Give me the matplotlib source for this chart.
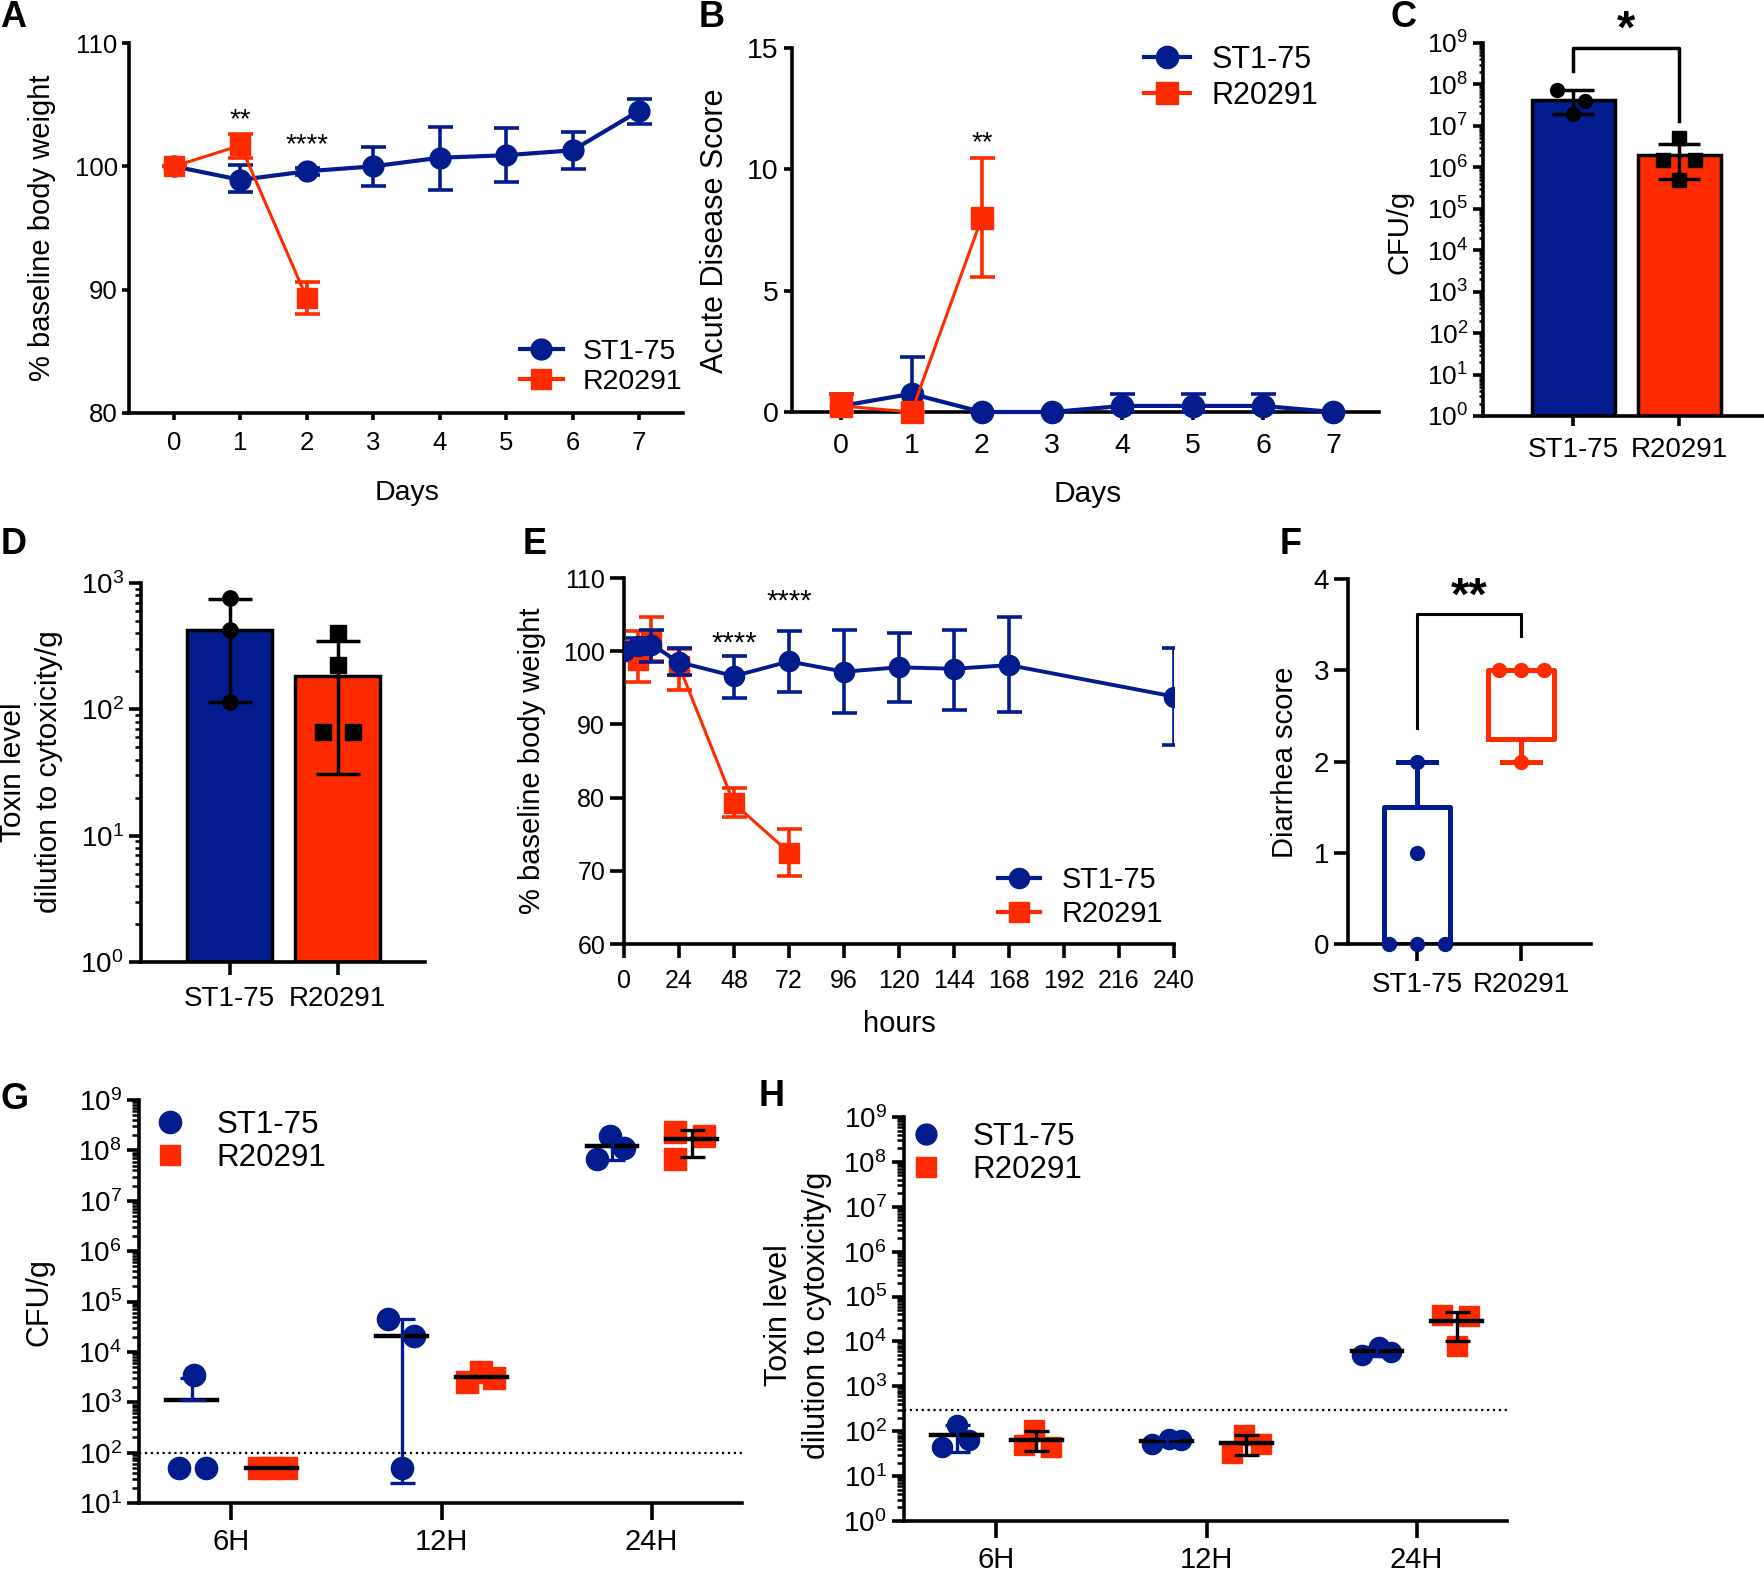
import matplotlib
matplotlib.use('Agg')
import matplotlib.pyplot as plt
import numpy as np
from matplotlib.lines import Line2D
from matplotlib.ticker import LogLocator, NullFormatter, FixedLocator

W, H = 1765, 1572
BLUE = '#021B8D'
RED = '#FF2B00'

plt.rcParams['font.family'] = ['Liberation Sans', 'DejaVu Sans']
plt.rcParams['mathtext.fontset'] = 'custom'
plt.rcParams['mathtext.rm'] = 'Liberation Sans'

# ---------------- data ----------------
strains = ['ST1-75', 'R20291']

# A: % baseline body weight, days
a_days = [0, 1, 2, 3, 4, 5, 6, 7]
a_st_mean = [100, 98.9, 99.6, 100.0, 100.7, 100.9, 101.3, 104.5]
a_st_lo = [100, 97.9, 99.3, 98.4, 98.1, 98.7, 99.8, 103.4]
a_st_hi = [100, 100.1, 99.9, 101.6, 103.2, 103.1, 102.8, 105.5]
a_r_days = [0, 1, 2]
a_r_mean = [100, 101.7, 89.3]
a_r_lo = [100, 100.7, 88.0]
a_r_hi = [100, 102.6, 90.6]

# B: acute disease score
b_days = [0, 1, 2, 3, 4, 5, 6, 7]
b_st_mean = [0.25, 0.75, 0, 0, 0.25, 0.25, 0.25, 0]
b_st_lo = [0, 0, 0, 0, 0, 0, 0, 0]
b_st_hi = [0.75, 2.25, 0, 0, 0.75, 0.75, 0.75, 0]
b_r_days = [0, 1, 2]
b_r_mean = [0.25, 0, 8.0]
b_r_lo = [0, 0, 5.55]
b_r_hi = [0.75, 0, 10.45]

# C: CFU/g
c_mean = [4.1e7, 2.0e6]
c_lo = [1.95e7, 5.2e5]
c_hi = [7.2e7, 3.7e6]
c_st_pts = [7.4e7, 3.9e7, 1.9e7]
c_st_off = [-0.15, 0.11, 0.0]
c_r_pts = [5.0e6, 1.5e6, 1.5e6, 5.0e5]
c_r_off = [0.0, -0.15, 0.15, 0.0]

# D: toxin level
d_mean = [427, 184]
d_lo = [115, 31]
d_hi = [752, 347]
d_st_pts = [760, 427, 115]
d_st_off = [0.0, 0.0, 0.0]
d_r_pts = [400, 224, 66, 66]
d_r_off = [0.0, 0.0, -0.13, 0.14]

# E: % baseline body weight, hours
e_st_hours = [0, 6, 12, 24, 48, 72, 96, 120, 144, 168, 240]
e_st_mean = [100, 100.7, 100.9, 98.5, 96.6, 98.6, 97.2, 97.8, 97.6, 98.1, 93.8]
e_st_lo = [100, 99.6, 98.5, 96.8, 93.6, 94.4, 91.5, 93.1, 92.0, 91.7, 87.2]
e_st_hi = [100, 101.8, 102.9, 100.5, 99.4, 102.8, 102.9, 102.5, 102.9, 104.7, 100.4]
e_r_hours = [0, 6, 12, 24, 48, 72]
e_r_mean = [100, 98.8, 101.4, 98.0, 79.2, 72.5]
e_r_lo = [98.9, 95.8, 98.6, 94.7, 77.3, 69.3]
e_r_hi = [101.3, 102.8, 104.7, 100.3, 81.3, 75.7]

# F: diarrhea score
f_st = [0, 0, 0, 1, 2]
f_st_off = [-0.27, 0.0, 0.27, 0.0, 0.0]
f_r = [3, 3, 3, 2]
f_r_off = [-0.21, 0.0, 0.22, 0.0]

# G: CFU/g over time
time_cats = ['6H', '12H', '24H']
g_st_pts = [[3.5e3, 50, 50], [4.4e4, 2.1e4, 50], [6.6e7, 1.9e8, 1.1e8]]
g_st_off = [[-0.18, -0.25, -0.12], [-0.255, -0.13, -0.19], [-0.26, -0.20, -0.13]]
g_st_mean = [1.1e3, 2.1e4, 1.2e8]
g_st_lo = [1.1e3, 25, 6.3e7]
g_st_hi = [3.0e3, 4.5e4, 1.6e8]
g_r_pts = [[50, 50, 50], [2.5e3, 4.0e3, 3.0e3], [2.3e8, 1.9e8, 6.6e7]]
g_r_off = [[0.13, 0.19, 0.26], [0.12, 0.19, 0.25], [0.11, 0.25, 0.11]]
g_r_mean = [50, 3.2e3, 1.66e8]
g_r_lo = [50, 3.2e3, 7.4e7]
g_r_hi = [50, 3.2e3, 2.5e8]
g_limit = 100

# H: toxin level over time
h_st_pts = [[45, 140, 65], [52, 67, 63], [5.0e3, 7.6e3, 5.9e3]]
h_st_off = [[-0.26, -0.19, -0.13], [-0.26, -0.18, -0.12], [-0.26, -0.18, -0.12]]
h_st_mean = [83, 61, 6.1e3]
h_st_lo = [35, 53, 4.8e3]
h_st_hi = [135, 69, 7.4e3]
h_r_pts = [[49, 105, 45], [32, 81, 52], [3.9e4, 3.7e4, 7.9e3]]
h_r_off = [[0.13, 0.18, 0.26], [0.12, 0.18, 0.26], [0.12, 0.25, 0.19]]
h_r_mean = [65, 55, 2.8e4]
h_r_lo = [36, 29, 1.0e4]
h_r_hi = [100, 81, 4.6e4]
h_limit = 290


# ---------------- helpers ----------------
def add_axes(fig, x0, y0, x1, y1, lw=2.6, ticklen=6, labelsize=19):
    """Axes placed by pixel box (left, top, right, bottom)."""
    ax = fig.add_axes([x0 / W, 1 - y1 / H, (x1 - x0) / W, (y1 - y0) / H])
    ax.spines[['top', 'right']].set_visible(False)
    ax.spines['left'].set_linewidth(lw)
    ax.spines['bottom'].set_linewidth(lw)
    ax.tick_params(which='major', width=lw, length=ticklen, labelsize=labelsize)
    ax.patch.set_visible(False)
    return ax


def xlabel(ax, text, x, y, size):
    ax.set_xlabel(text, fontsize=size, va='baseline')
    ax.xaxis.set_label_coords(x / W, 1 - y / H, transform=ax.figure.transFigure)


def ylabel(ax, text, x, y, size, **kw):
    ax.set_ylabel(text, fontsize=size, va='center', ha='center', **kw)
    ax.yaxis.set_label_coords(x / W, 1 - y / H, transform=ax.figure.transFigure)


def legend(ax, handles, x, y, size, hlen, pad, spacing):
    ax.legend(handles, strains, loc='upper left',
              bbox_to_anchor=(x / W, 1 - y / H), bbox_transform=ax.figure.transFigure,
              frameon=False, fontsize=size, handlelength=hlen, handletextpad=pad,
              labelspacing=spacing, borderpad=0, borderaxespad=0)


def yerr(mean, lo, hi):
    mean, lo, hi = map(np.asarray, (mean, lo, hi))
    return [mean - lo, hi - mean]


def log_yaxis(ax, lo_exp, hi_exp, minor_len=3):
    ax.set_yscale('log')
    ax.set_ylim(10.0 ** lo_exp, 10.0 ** hi_exp)
    ax.yaxis.set_major_locator(FixedLocator([10.0 ** k for k in range(lo_exp, hi_exp + 1)]))
    ax.set_yticklabels([r'$\mathregular{10^{%d}}$' % k for k in range(lo_exp, hi_exp + 1)])
    ax.yaxis.set_minor_locator(LogLocator(base=10, subs=np.arange(2, 10), numticks=30))
    ax.yaxis.set_minor_formatter(NullFormatter())
    ax.tick_params(which='minor', axis='y', length=minor_len, width=1.8)


def stars(ax, x, y, text, size, bold=False, dy=-12):
    ax.annotate(text, xy=(x, y), xytext=(0, dy), textcoords='offset points',
                ha='center', va='baseline', fontsize=size,
                fontweight='bold' if bold else 'normal', annotation_clip=False)


# ---------------- panels ----------------
def panel_a(fig):
    ax = add_axes(fig, 129.5, 43, 683, 413, ticklen=5, labelsize=18.5)
    ax.errorbar(a_days, a_st_mean, yerr=yerr(a_st_mean, a_st_lo, a_st_hi), color=BLUE,
                lw=3, marker='o', ms=15, capsize=9, capthick=2.6, elinewidth=2.6, zorder=3)
    ax.errorbar(a_r_days, a_r_mean, yerr=yerr(a_r_mean, a_r_lo, a_r_hi), color=RED,
                lw=2.2, marker='s', ms=15, capsize=9, capthick=2.6, elinewidth=2.6, zorder=4)
    ax.set_xlim(-0.67, 7.66)
    ax.set_ylim(80, 110)
    ax.set_xticks(a_days)
    ax.set_yticks([80, 90, 100, 110])
    ax.tick_params(axis='x', pad=8)
    stars(ax, 1, 104.3, '**', 20, dy=-10)
    stars(ax, 2, 102.3, '****', 20, dy=-10)
    xlabel(ax, 'Days', 407, 500, 20.5)
    ylabel(ax, '% baseline body weight', 42, 228, 21)
    handles = [Line2D([], [], color=BLUE, marker='o', ms=15, lw=3),
               Line2D([], [], color=RED, marker='s', ms=15, lw=3)]
    legend(ax, handles, 520, 339, 20.5, 1.5, 0.7, 0.15)


def panel_b(fig):
    ax = add_axes(fig, 792, 48, 1379, 412, ticklen=6, labelsize=20.5)
    ax.errorbar(b_days, b_st_mean, yerr=yerr(b_st_mean, b_st_lo, b_st_hi), color=BLUE,
                lw=3, marker='o', ms=16, capsize=9, capthick=2.6, elinewidth=2.6,
                zorder=3, clip_on=False)
    ax.errorbar(b_r_days, b_r_mean, yerr=yerr(b_r_mean, b_r_lo, b_r_hi), color=RED,
                lw=2.2, marker='s', ms=16, capsize=9, capthick=2.6, elinewidth=2.6,
                zorder=4, clip_on=False)
    ax.set_xlim(-0.70, 7.65)
    ax.set_ylim(0, 15)
    ax.set_xticks(b_days)
    ax.set_yticks([0, 5, 10, 15])
    ax.tick_params(axis='x', pad=9)
    stars(ax, 2, 11.35, '**', 20, dy=-10)
    xlabel(ax, 'Days', 1088, 502, 21.5)
    ylabel(ax, 'Acute Disease Score', 715, 231, 22)
    handles = [Line2D([], [], color=BLUE, marker='o', ms=16, lw=3),
               Line2D([], [], color=RED, marker='s', ms=16, lw=3)]
    legend(ax, handles, 1144, 45, 22, 1.5, 0.7, 0.2)


def bar_panel(ax, means, lo, hi, st_pts, st_off, r_pts, r_off, capsize, ms):
    x = np.arange(len(strains))
    ax.bar(x, means, width=0.78, bottom=ax.get_ylim()[0], color=[BLUE, RED],
           edgecolor='black', linewidth=2.5, zorder=2)
    ax.errorbar(x, means, yerr=yerr(means, lo, hi), fmt='none', ecolor='black',
                elinewidth=2.5, capsize=capsize, capthick=2.5, zorder=4)
    ax.plot(x[0] + np.asarray(st_off), st_pts, 'o', color='black', ms=ms, zorder=5)
    ax.plot(x[1] + np.asarray(r_off), r_pts, 's', color='black', ms=ms, zorder=5)
    ax.set_xticks(x)
    ax.set_xticklabels(strains)


def panel_c(fig):
    ax = add_axes(fig, 1483, 43, 1763, 416, ticklen=7, labelsize=19)
    log_yaxis(ax, 0, 9)
    bar_panel(ax, c_mean, c_lo, c_hi, c_st_pts, c_st_off, c_r_pts, c_r_off, 15, 10)
    ax.set_xlim(-0.85, 1.79)
    ax.tick_params(axis='x', labelsize=20, pad=8)
    # significance bracket
    ax.plot([0, 0, 1, 1], [10 ** 8.32, 10 ** 8.88, 10 ** 8.88, 10 ** 7.12], color='black',
            lw=2.5, clip_on=False)
    stars(ax, 0.5, 10 ** 9.48, '*', 34, bold=True, dy=-14.4)
    ylabel(ax, 'CFU/g', 1400, 232, 21)


def panel_d(fig):
    ax = add_axes(fig, 141, 583, 425, 962, ticklen=9, labelsize=20)
    log_yaxis(ax, 0, 3, minor_len=4)
    bar_panel(ax, d_mean, d_lo, d_hi, d_st_pts, d_st_off, d_r_pts, d_r_off, 16, 11)
    ax.set_xlim(-0.82, 1.81)
    ax.tick_params(axis='x', labelsize=20, pad=8)
    ylabel(ax, 'Toxin level\ndilution to cytoxicity/g', 31, 772, 21.5, linespacing=1.35)


def panel_e(fig):
    ax = add_axes(fig, 624, 578, 1174, 944, ticklen=10, labelsize=18)
    ax.errorbar(e_r_hours, e_r_mean, yerr=yerr(e_r_mean, e_r_lo, e_r_hi), color=RED,
                lw=2.2, marker='s', ms=14.5, capsize=9, capthick=2.6, elinewidth=2.6, zorder=3)
    ax.errorbar(e_st_hours, e_st_mean, yerr=yerr(e_st_mean, e_st_lo, e_st_hi), color=BLUE,
                lw=2.8, marker='o', ms=14.5, capsize=9, capthick=2.6, elinewidth=2.6, zorder=4)
    ax.set_xlim(0, 240)
    ax.set_ylim(60, 110)
    ax.set_xticks(np.arange(0, 241, 24))
    ax.set_yticks([60, 70, 80, 90, 100, 110])
    ax.tick_params(axis='x', labelsize=18, pad=8)
    stars(ax, 48, 102.25, '****', 21)
    stars(ax, 72, 107.95, '****', 21)
    xlabel(ax, 'hours', 899, 1032, 21)
    ylabel(ax, '% baseline body weight', 532, 761, 21)
    handles = [Line2D([], [], color=BLUE, marker='o', ms=14.5, lw=3),
               Line2D([], [], color=RED, marker='s', ms=14.5, lw=3)]
    legend(ax, handles, 998, 866, 20.8, 1.45, 0.75, 0.2)


def panel_f(fig):
    ax = add_axes(fig, 1348, 579, 1591, 944, ticklen=10, labelsize=20)
    stats = []
    for vals in (f_st, f_r):
        q1, med, q3 = np.percentile(vals, [25, 50, 75], method='weibull')
        stats.append(dict(med=med, q1=q1, q3=q3, whislo=min(vals), whishi=max(vals),
                          fliers=[]))
    art = ax.bxp(stats, positions=[0, 1], widths=0.63, capwidths=0.36, showfliers=False,
                 manage_ticks=False)
    for i, color in enumerate([BLUE, RED]):
        art['boxes'][i].set(color=color, lw=3.6)
        art['medians'][i].set(color=color, lw=3.6)
        for item in art['whiskers'][2 * i:2 * i + 2] + art['caps'][2 * i:2 * i + 2]:
            item.set(color=color, lw=3.6)
    ax.plot(0 + np.asarray(f_st_off), f_st, 'o', color=BLUE, ms=10, clip_on=False, zorder=5)
    ax.plot(1 + np.asarray(f_r_off), f_r, 'o', color=RED, ms=10, clip_on=False, zorder=5)
    ax.set_xlim(-0.66, 1.67)
    ax.set_ylim(0, 4)
    ax.set_yticks([0, 1, 2, 3, 4])
    ax.set_xticks([0, 1])
    ax.set_xticklabels(strains)
    ax.tick_params(axis='x', length=12, pad=8)
    ax.plot([0, 0, 1, 1], [2.37, 3.62, 3.62, 3.37], color='black', lw=2.2, clip_on=False)
    stars(ax, 0.5, 3.88, '**', 34, bold=True, dy=-14.4)
    ylabel(ax, 'Diarrhea score', 1285, 762, 21)


def dot_panel(ax, st_pts, st_off, st_mean, st_lo, st_hi, r_pts, r_off, r_mean, r_lo, r_hi,
              ms, limit):
    for i in range(len(time_cats)):
        ax.plot(i + np.asarray(st_off[i]), st_pts[i], 'o', color=BLUE, ms=ms, zorder=3)
        ax.plot(i + np.asarray(r_off[i]), r_pts[i], 's', color=RED, ms=ms, zorder=3)
        for c, mean, lo, hi, ecol in ((-0.19, st_mean[i], st_lo[i], st_hi[i], BLUE),
                                      (0.19, r_mean[i], r_lo[i], r_hi[i], 'black')):
            ax.plot([i + c - 0.12, i + c + 0.12], [mean, mean], color='black', lw=3.2, zorder=4)
            if hi > lo:
                ax.errorbar(i + c, mean, yerr=[[mean - lo], [hi - mean]], fmt='none',
                            ecolor=ecol, elinewidth=2.4, capsize=9, capthick=2.4, zorder=4)
    ax.axhline(limit, color='black', ls=':', lw=1.6, zorder=1)
    ax.set_xlim(-0.44, 2.43)
    ax.set_xticks(range(len(time_cats)))
    ax.set_xticklabels(time_cats)
    ax.tick_params(axis='x', length=12, labelsize=21, pad=6)


def panel_g(fig):
    ax = add_axes(fig, 139, 1100, 742, 1503, ticklen=9, labelsize=20)
    log_yaxis(ax, 1, 9, minor_len=5)
    dot_panel(ax, g_st_pts, g_st_off, g_st_mean, g_st_lo, g_st_hi,
              g_r_pts, g_r_off, g_r_mean, g_r_lo, g_r_hi, 16, g_limit)
    ylabel(ax, 'CFU/g', 40, 1302, 22)
    handles = [Line2D([], [], color=BLUE, marker='o', ms=16, ls='none'),
               Line2D([], [], color=RED, marker='s', ms=14.5, ls='none')]
    legend(ax, handles, 154, 1110, 22.5, 1.0, 1.0, 0.1)


def panel_h(fig):
    ax = add_axes(fig, 904, 1117, 1507, 1521, ticklen=9, labelsize=20)
    log_yaxis(ax, 0, 9, minor_len=5)
    dot_panel(ax, h_st_pts, h_st_off, h_st_mean, h_st_lo, h_st_hi,
              h_r_pts, h_r_off, h_r_mean, h_r_lo, h_r_hi, 14.5, h_limit)
    ylabel(ax, 'Toxin level\ndilution to cytoxicity/g', 798, 1315, 22, linespacing=1.35)
    handles = [Line2D([], [], color=BLUE, marker='o', ms=15, ls='none'),
               Line2D([], [], color=RED, marker='s', ms=14, ls='none')]
    legend(ax, handles, 910, 1122, 22.5, 1.0, 1.0, 0.1)


def main():
    fig = plt.figure(figsize=(W / 100, H / 100), dpi=100)
    panel_a(fig)
    panel_b(fig)
    panel_c(fig)
    panel_d(fig)
    panel_e(fig)
    panel_f(fig)
    panel_g(fig)
    panel_h(fig)
    letters = [('A', 0, 0), ('B', 699, 0), ('C', 1391, 0), ('D', 1, 527), ('E', 523, 527),
               ('F', 1280, 527), ('G', 0, 1082), ('H', 759, 1079)]
    for letter, x, y in letters:
        fig.text(x / W, 1 - y / H, letter, fontsize=26, fontweight='bold', ha='left', va='top')
    fig.savefig('out.png', dpi=100)


main()
